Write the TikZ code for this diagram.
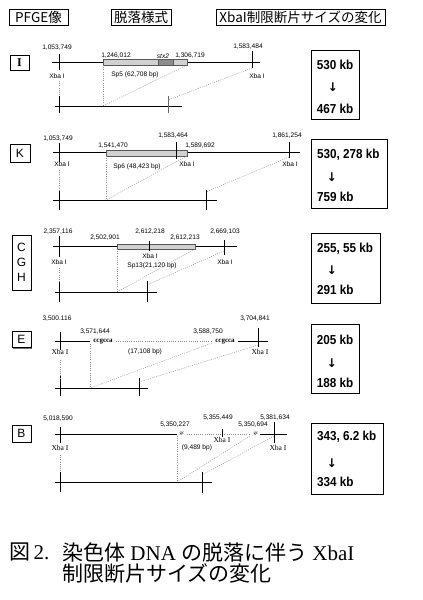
\documentclass[tikz,border=0pt]{standalone}
\usepackage{fontspec}
\setmainfont{Liberation Serif}
\newfontfamily\jp{Noto Sans CJK JP}
\newfontfamily\sans{Liberation Sans}
\newfontfamily\kbf[FakeStretch=0.9]{Liberation Sans}
\newfontfamily\symf{DejaVu Sans}
\usetikzlibrary{shadows}
\tikzset{
 shad/.style={drop shadow={shadow xshift=1pt, shadow yshift=-1pt, fill=black!55, opacity=1}},
 hbox/.style={draw, line width=0.6pt, fill=white, shad, inner sep=0pt, font=\jp\fontsize{13.5}{14}\selectfont},
 lbox/.style={draw, line width=0.6pt, fill=white, shad, inner sep=0pt, font=\sans\fontsize{12}{15}\selectfont, align=center},
 kbbox/.style={draw, line width=0.7pt, fill=white, shad, inner sep=0pt},
 kbt/.style={font=\kbf\bfseries\fontsize{13}{15}\selectfont, inner sep=0pt},
 arr/.style={font=\symf\bfseries\fontsize{12}{14}\selectfont, inner sep=0pt},
 num/.style={font=\sans\fontsize{6.6}{7}\selectfont, inner sep=0pt},
 xba/.style={font=\sans\fontsize{6.6}{7}\selectfont, inner sep=0pt},
 xbas/.style={font=\fontsize{7.5}{8}\selectfont, inner sep=0pt},
 seq/.style={font=\bfseries\fontsize{7}{8}\selectfont, inner sep=0pt},
 mainline/.style={line width=1pt},
 tickl/.style={line width=0.6pt},
 dots/.style={black!45, line width=0.45pt, dash pattern=on 1pt off 1.2pt},
 elem/.style={fill=black!18, draw=black!65, line width=0.5pt},
 captext/.style={font=\fontsize{21}{24}\selectfont, inner sep=0pt, anchor=west},
}
\begin{document}
\begin{tikzpicture}[x=1pt,y=-1pt]
\useasboundingbox (0,0) rectangle (423,600);
\fill[white] (0,0) rectangle (423,600);

% header
\node[hbox, minimum width=59pt, minimum height=16pt] (h1) at (38.5,17) {PFGE像};
\node[hbox, minimum width=60pt, minimum height=16pt] (h2) at (141,17) {脱落様式};
\node[hbox, minimum width=169pt, minimum height=16pt] (h3) at (300.5,17) {XbaI制限断片サイズの変化};

% ===== Panel I =====
\node[lbox, minimum width=19pt, minimum height=15pt, font=\bfseries\fontsize{12}{14}\selectfont] (lI) at (19.5,62.5) {I};
\draw[mainline] (52,62) -- (260,62);
\draw[tickl] (59,54) -- (59,70);
\draw[tickl] (252,51) -- (252,68);
\draw[elem] (103,59.5) rectangle (187,65);
\draw[elem, fill=black!45] (158,59.5) rectangle (173,65);
\node[num] (i1) at (57,48) {1,053,749};
\node[num] (i2) at (116,56) {1,246,012};
\node[num, font=\sans\itshape\fontsize{6.6}{7}\selectfont] (i3) at (163,56) {stx2};
\node[num] (i4) at (190,56) {1,306,719};
\node[num] (i5) at (248,47) {1,583,484};
\node[xba] (ix1) at (57,76) {Xba I};
\node[xba] (ix2) at (257,76) {Xba I};
\node[num] (isp) at (135,75) {Sp5 (62,708 bp)};
\draw[mainline] (55,106) -- (182,106);
\draw[tickl] (59,96) -- (59,113);
\draw[tickl, black!60] (168,96) -- (168,113);
\draw[dots] (59,81) -- (59,96);
\draw[dots] (103,65) -- (103,106);
\draw[dots] (187,65) -- (103,106);
\draw[dots] (252,68) -- (168,100);
\node[kbbox, minimum width=48pt, minimum height=69pt] (kI) at (335,84.5) {};
\node[kbt] (kI1) at (335,65) {530 kb};
\node[arr] (kI2) at (333,87) {↓};
\node[kbt] (kI3) at (335,109) {467 kb};

% ===== Panel K =====
\node[lbox, minimum width=20pt, minimum height=18pt] (lK) at (20,153) {K};
\draw[mainline] (53,152.5) -- (300,152.5);
\draw[tickl] (59,143) -- (59,162);
\draw[elem] (106,150.5) rectangle (187,156);
\draw[tickl] (176,142) -- (176,159);
\draw[tickl] (289,142) -- (289,158);
\node[num] (k1) at (58,139) {1,053,749};
\node[num] (k2) at (113,146) {1,541,470};
\node[num] (k3) at (173,136) {1,583,464};
\node[num] (k4) at (200,146) {1,589,692};
\node[num] (k5) at (287,136) {1,861,254};
\node[xba] (kx1) at (62,164) {Xba I};
\node[xba] (kx2) at (187,164) {Xba I};
\node[xba] (kx3) at (290,164) {Xba I};
\node[num] (ksp) at (137,167) {Sp6 (48,423 bp)};
\draw[mainline] (53,200) -- (217,200);
\draw[tickl] (59,190) -- (59,210);
\draw[tickl] (206,190) -- (206,210);
\draw[dots] (59,170) -- (59,190);
\draw[dots] (106,156) -- (106,200);
\draw[dots] (187,156) -- (106,200);
\draw[dots] (289,157) -- (206,192);
\node[kbbox, minimum width=76pt, minimum height=69pt] (kK) at (349,173.5) {};
\node[kbt, anchor=west] (kK1) at (317,155) {530, 278 kb};
\node[arr] (kK2) at (332,177) {↓};
\node[kbt, anchor=west] (kK3) at (317,197) {759 kb};

% ===== Panel CGH =====
\node[lbox, minimum width=19pt, minimum height=55pt] (lC) at (21.5,262.5) {C\\G\\H};
\draw[mainline] (53,246) -- (237,246);
\draw[tickl] (59,236) -- (59,257);
\draw[elem] (117,244) rectangle (195,249);
\draw[tickl] (149,241) -- (149,251);
\draw[tickl] (224,240) -- (224,255);
\node[num] (c1) at (58,232) {2,357,116};
\node[num] (c2) at (105,238) {2,502,901};
\node[num] (c3) at (150,232) {2,612,218};
\node[num] (c4) at (185,238) {2,612,213};
\node[num] (c5) at (225,232) {2,669,103};
\node[xba] (cx1) at (59,262) {Xba I};
\node[xba] (cx2) at (150,256) {Xba I};
\node[xba] (cx3) at (225,262) {Xba I};
\node[num] (csp) at (152,266) {Sp13(21,120 bp)};
\draw[mainline] (55,292) -- (157,292);
\draw[tickl] (59,282) -- (59,302);
\draw[tickl] (147,281) -- (147,302);
\draw[dots] (59,268) -- (59,282);
\draw[dots] (117,249) -- (117,292);
\draw[dots] (195,249) -- (117,292);
\draw[dots] (224,251) -- (147,285);
\node[kbbox, minimum width=69pt, minimum height=70pt] (kC) at (345.5,268) {};
\node[kbt, anchor=west] (kC1) at (317,249) {255, 55 kb};
\node[arr] (kC2) at (332,270) {↓};
\node[kbt, anchor=west] (kC3) at (317,290) {291 kb};

% ===== Panel E =====
\node[lbox, minimum width=19pt, minimum height=16pt] (lE) at (21.5,339.5) {E};
\draw[mainline] (55,341) -- (90,341);
\draw[tickl] (60,332) -- (60,350);
\node[seq] (e_s1) at (103,341) {ccgcca};
\draw[dots] (116,341) -- (212,341);
\node[seq] (e_s2) at (225,341) {ccgcca};
\draw[mainline] (238,341) -- (268,341);
\draw[tickl] (258,328) -- (258,347);
\node[num] (e1) at (57,319) {3,500.116};
\node[num] (e2) at (95,332) {3,571,644};
\node[num] (e3) at (208,332) {3,588,750};
\node[num] (e4) at (255,319) {3,704,841};
\node[xbas] (ex1) at (60,352) {Xba I};
\node[xbas] (ex2) at (260,352) {Xba I};
\node[num] (esp) at (145,352) {(17,108 bp)};
\draw[mainline] (55,388) -- (148,388);
\draw[tickl] (60,376) -- (60,396);
\draw[tickl] (139,378) -- (139,396);
\draw[dots] (60,360) -- (60,378);
\draw[dots] (90,344) -- (90,388);
\draw[dots] (212,343) -- (90,388);
\draw[dots] (258,345) -- (139,382);
\node[kbbox, minimum width=48pt, minimum height=69pt] (kE) at (335,358.5) {};
\node[kbt] (kE1) at (335,340) {205 kb};
\node[arr] (kE2) at (332,363) {↓};
\node[kbt] (kE3) at (335,383) {188 kb};

% ===== Panel B =====
\node[lbox, minimum width=19pt, minimum height=17pt] (lB) at (21.5,433.5) {B};
\draw[mainline] (55,434) -- (177,434);
\draw[tickl] (60,427) -- (60,443);
\node[inner sep=0pt, font=\fontsize{5}{5}\selectfont] (b_g1) at (182,434) {gc};
\draw[dots] (187,434) -- (250,434);
\draw[tickl] (222,429) -- (222,437);
\node[inner sep=0pt, font=\fontsize{5}{5}\selectfont] (b_g2) at (256,434) {gc};
\draw[mainline] (260,434) -- (287,434);
\draw[tickl] (274,422) -- (274,443);
\node[num] (b1) at (58,419) {5,018,590};
\node[num] (b2) at (175,425) {5,350,227};
\node[num] (b3) at (218,418) {5,355,449};
\node[num] (b4) at (253,425) {5,350,694};
\node[num] (b5) at (275,418) {5,381,634};
\node[xbas] (bx1) at (60,448) {Xba I};
\node[xbas] (bx2) at (222,440) {Xba I};
\node[xbas] (bx3) at (278,448) {Xba I};
\node[num] (bsp) at (197,448) {(9,489 bp)};
\draw[mainline] (55,482) -- (212,482);
\draw[tickl] (60,472) -- (60,492);
\draw[tickl] (202,472) -- (202,493);
\draw[dots] (60,455) -- (60,472);
\draw[dots] (177,436) -- (177,482);
\draw[dots] (250,436) -- (177,482);
\draw[dots] (274,436) -- (202,475);
\node[kbbox, minimum width=72pt, minimum height=71pt] (kB) at (347,458.5) {};
\node[kbt, anchor=west] (kB1) at (317,437) {343, 6.2 kb};
\node[arr] (kB2) at (332,463) {↓};
\node[kbt, anchor=west] (kB3) at (317,482) {334 kb};

% caption
\node[captext] (cap0) at (9,552) {{\jp 図}\,2.};
\node[captext] (cap1) at (62,552) {{\jp 染色体} DNA {\jp の脱落に伴う} XbaI};
\node[captext] (cap2) at (62,574) {{\jp 制限断片サイズの変化}};
\end{tikzpicture}
\end{document}
